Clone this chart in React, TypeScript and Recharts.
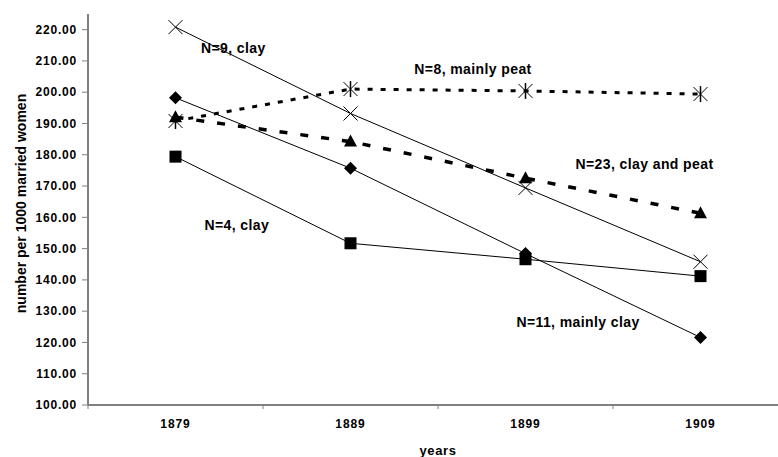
import { LineChart, Line, XAxis, YAxis, ReferenceDot } from "recharts";

const years = [1879, 1889, 1899, 1909];
const clayN9 = [220.8, 193.2, 169.4, 145.8];
const peatN8 = [190.8, 201.0, 200.4, 199.4];
const mixedN23 = [192.0, 184.2, 172.5, 161.3];
const clayN11 = [198.2, 175.7, 148.4, 121.6];
const clayN4 = [179.4, 151.7, 146.6, 141.2];

const yTicks = [100, 110, 120, 130, 140, 150, 160, 170, 180, 190, 200, 210, 220];
// x axis: tick marks sit between the years, labels on the years
const bandEdges = [1874, 1884, 1894, 1904, 1914];
const xTicks = [1874, 1879, 1884, 1889, 1894, 1899, 1904, 1909, 1914];

const notes = [
  { text: "N=9, clay", x: 1882.3, y: 214.1 },
  { text: "N=8, mainly peat", x: 1896.0, y: 207.4 },
  { text: "N=23, clay and peat", x: 1905.8, y: 177.0 },
  { text: "N=4, clay", x: 1882.5, y: 157.5 },
  { text: "N=11, mainly clay", x: 1902.0, y: 126.5 },
];

const rows = years.map((year, i) => ({
  year,
  clayN9: clayN9[i],
  peatN8: peatN8[i],
  mixedN23: mixedN23[i],
  clayN11: clayN11[i],
  clayN4: clayN4[i],
}));

const FONT = "'Liberation Sans', Arial, sans-serif";
const AXIS = "#808080";

function CrossDot(props: any) {
  const { cx, cy, index } = props;
  return (
    <g key={`x-${index}`} stroke="#000" strokeWidth={1}>
      <line x1={cx - 7} y1={cy - 7} x2={cx + 7} y2={cy + 7} />
      <line x1={cx - 7} y1={cy + 7} x2={cx + 7} y2={cy - 7} />
    </g>
  );
}

function StarDot(props: any) {
  const { cx, cy, index } = props;
  return (
    <g key={`s-${index}`} stroke="#000" strokeWidth={1}>
      <line x1={cx - 7} y1={cy - 7} x2={cx + 7} y2={cy + 7} />
      <line x1={cx - 7} y1={cy + 7} x2={cx + 7} y2={cy - 7} />
      <line x1={cx} y1={cy - 8} x2={cx} y2={cy + 8} strokeWidth={1.5} />
    </g>
  );
}

function TriangleDot(props: any) {
  const { cx, cy, index } = props;
  return (
    <path
      key={`t-${index}`}
      d={`M${cx},${cy - 7} L${cx + 6.5},${cy + 5} L${cx - 6.5},${cy + 5} Z`}
      fill="#000"
      stroke="none"
    />
  );
}

function DiamondDot(props: any) {
  const { cx, cy, index } = props;
  return (
    <path
      key={`d-${index}`}
      d={`M${cx},${cy - 6.5} L${cx + 6.5},${cy} L${cx},${cy + 6.5} L${cx - 6.5},${cy} Z`}
      fill="#000"
      stroke="none"
    />
  );
}

function SquareDot(props: any) {
  const { cx, cy, index } = props;
  return <rect key={`q-${index}`} x={cx - 6} y={cy - 6} width={12} height={12} fill="#000" />;
}

function YearTick(props: any) {
  const { x, y, payload } = props;
  const v = Number(payload.value);
  if (bandEdges.includes(v)) {
    return <line x1={x} x2={x} y1={y - 4} y2={y} stroke={AXIS} strokeWidth={1} />;
  }
  return (
    <text
      x={x}
      y={y}
      dy={19}
      textAnchor="middle"
      fontFamily={FONT}
      fontWeight="bold"
      fontSize={12}
      letterSpacing={0.9}
      fill="#000"
    >
      {v}
    </text>
  );
}

export default function App() {
  return (
    <div style={{ position: "absolute", left: 0, top: 0, width: 778, height: 457, overflow: "hidden", background: "#fff" }}>
      <LineChart
        width={800}
        height={457}
        data={rows}
        margin={{ top: 14, right: 12, left: 0, bottom: 0 }}
        style={{ fontFamily: FONT }}
      >
        <XAxis
          dataKey="year"
          type="number"
          domain={[1874, 1914]}
          ticks={xTicks}
          interval={0}
          height={52}
          tickSize={4}
          tickMargin={0}
          tickLine={false}
          tick={<YearTick />}
          axisLine={{ stroke: AXIS, strokeWidth: 2 }}
          label={(p: any) => (
            <text
              x={p.viewBox.x + p.viewBox.width / 2}
              y={455}
              textAnchor="middle"
              fontFamily={FONT}
              fontWeight="bold"
              fontSize={13}
              letterSpacing={0.6}
              fill="#000"
            >
              years
            </text>
          )}
        />
        <YAxis
          type="number"
          domain={[100, 225]}
          ticks={yTicks}
          interval={0}
          width={88}
          tickSize={6}
          tickMargin={5}
          tickFormatter={(v) => Number(v).toFixed(2)}
          tick={{ fill: "#000", fontSize: 12, fontWeight: "bold", letterSpacing: 0.8, fontFamily: FONT }}
          tickLine={{ stroke: AXIS, strokeWidth: 1 }}
          axisLine={{ stroke: AXIS, strokeWidth: 2 }}
          label={(p: any) => {
            const cx = p.viewBox.x + 21;
            const cy = p.viewBox.y + p.viewBox.height / 2 - 6;
            return (
              <text
                transform={`translate(${cx},${cy}) rotate(-90)`}
                textAnchor="middle"
                dominantBaseline="central"
                fontFamily={FONT}
                fontWeight="bold"
                fontSize={14}
                fill="#000"
              >
                number per 1000 married women
              </text>
            );
          }}
        />
        <Line
          dataKey="clayN4"
          stroke="#000"
          strokeWidth={1}
          dot={SquareDot}
          activeDot={false}
          isAnimationActive={false}
        />
        <Line
          dataKey="clayN11"
          stroke="#000"
          strokeWidth={1}
          dot={DiamondDot}
          activeDot={false}
          isAnimationActive={false}
        />
        <Line
          dataKey="clayN9"
          stroke="#000"
          strokeWidth={1}
          dot={CrossDot}
          activeDot={false}
          isAnimationActive={false}
        />
        <Line
          dataKey="mixedN23"
          stroke="#000"
          strokeWidth={3.5}
          strokeDasharray="8 13"
          dot={TriangleDot}
          activeDot={false}
          isAnimationActive={false}
        />
        <Line
          dataKey="peatN8"
          stroke="#000"
          strokeWidth={3}
          strokeDasharray="5 8"
          dot={StarDot}
          activeDot={false}
          isAnimationActive={false}
        />
        {notes.map((n) => (
          <ReferenceDot
            key={n.text}
            x={n.x}
            y={n.y}
            r={1}
            fill="none"
            stroke="none"
            label={{
              value: n.text,
              position: "center",
              fill: "#000",
              fontSize: 14,
              fontWeight: "bold",
              letterSpacing: 0.4,
              fontFamily: FONT,
            }}
          />
        ))}
      </LineChart>
    </div>
  );
}
